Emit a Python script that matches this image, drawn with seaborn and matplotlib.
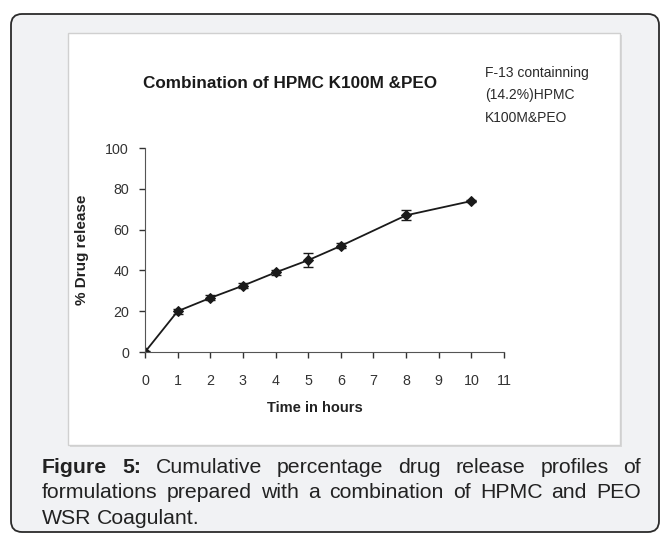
"""plot.py
Cumulative drug release profile (F-13, HPMC K100M & PEO) redrawn with seaborn.
"""
import matplotlib
matplotlib.use('Agg')
import matplotlib.pyplot as plt
from matplotlib.patches import FancyBboxPatch, Rectangle
import pandas as pd
import seaborn as sns

# data
hours = [0, 1, 2, 3, 4, 5, 6, 8, 10]
release = [0, 20, 26.5, 32.5, 39, 45, 52, 67, 74]
release_err = [0.5, 1.2, 1.2, 1.2, 1.2, 3.5, 1.2, 2.5, 0.5]
x_ticks = list(range(0, 12))
y_ticks = [0, 20, 40, 60, 80, 100]

title = 'Combination of HPMC K100M &PEO'
note_lines = ['F-13 containning', '(14.2%)HPMC', 'K100M&PEO']
caption_lines = [
    ['Figure', '5:', 'Cumulative', 'percentage', 'drug', 'release', 'profiles', 'of'],
    ['formulations', 'prepared', 'with', 'a', 'combination', 'of', 'HPMC', 'and', 'PEO'],
    ['WSR', 'Coagulant.'],
]

W, H = 666, 535

sns.set_style('ticks')
plt.rcParams['font.family'] = ['Liberation Sans', 'DejaVu Sans']

fig = plt.figure(figsize=(W / 100, H / 100), dpi=100)

# background layer in pixel coordinates
bg = fig.add_axes([0, 0, 1, 1], zorder=0)
bg.set_xlim(0, W)
bg.set_ylim(H, 0)
bg.axis('off')
bg.add_patch(FancyBboxPatch((11, 14), 648, 518, boxstyle='round,pad=0,rounding_size=11',
                            facecolor='#f1f2f4', edgecolor='#2b2b2b', linewidth=1.3))
bg.add_patch(Rectangle((70, 35), 552, 412, facecolor='#d8d8d8', edgecolor='none'))
bg.add_patch(Rectangle((68, 33), 552, 412, facecolor='white', edgecolor='#d0d0d0', linewidth=1))

bg.text(290, 83, title, fontsize=12.3, fontweight='bold', ha='center', va='center',
        color='#1a1a1a')
for i, line in enumerate(note_lines):
    bg.text(485, 73 + i * 22.5, line, fontsize=10, ha='left', va='center', color='#2a2a2a')

# main plot
ax = fig.add_axes([145 / W, 1 - 352 / H, (504 - 145) / W, (352 - 148) / H], zorder=2)
ax.patch.set_alpha(0)
df = pd.DataFrame({'hours': hours, 'release': release, 'err': release_err})
sns.lineplot(data=df, x='hours', y='release', ax=ax, color='#1a1a1a', linewidth=1.3,
             marker='D', markersize=5.5, markeredgecolor='#1a1a1a')
ax.errorbar(df['hours'], df['release'], yerr=df['err'], fmt='none', ecolor='#1a1a1a',
            elinewidth=1, capsize=3.5, capthick=1)
ax.set_xlim(0, 11)
ax.set_ylim(0, 100)
ax.set_xticks(x_ticks)
ax.set_yticks(y_ticks)
ax.set_xlabel('Time in hours', fontsize=10.5, fontweight='bold', color='#222222')
ax.set_ylabel('% Drug release', fontsize=11, fontweight='bold', color='#222222')
ax.xaxis.set_label_coords((315 - 145) / 359, (352 - 401) / 204)
ax.yaxis.set_label_coords((98 - 145) / 359 - 0.025, 0.5)
ax.tick_params(labelsize=10.3, length=4.5, width=1, colors='#333333')
ax.tick_params(axis='x', pad=11)
ax.tick_params(axis='y', pad=7)
for s in ['left', 'bottom']:
    ax.spines[s].set_color('#555555')
sns.despine(ax=ax)

# justified caption
fig.canvas.draw()
renderer = fig.canvas.get_renderer()
left, right = 42, 641
for li, words in enumerate(caption_lines):
    y = 473 + li * 25.5
    texts = []
    for wi, w in enumerate(words):
        bold = (li == 0 and wi < 2)
        texts.append(bg.text(0, y, w, fontsize=15.3, ha='left', va='baseline', color='#222222',
                             fontweight='bold' if bold else 'normal'))
    widths = [t.get_window_extent(renderer).width for t in texts]
    if li < len(caption_lines) - 1:
        gap = (right - left - sum(widths)) / (len(words) - 1)
    else:
        gap = 5.5
    x = left
    for t, wd in zip(texts, widths):
        t.set_x(x)
        x += wd + gap

fig.savefig('out.png', dpi=100)
